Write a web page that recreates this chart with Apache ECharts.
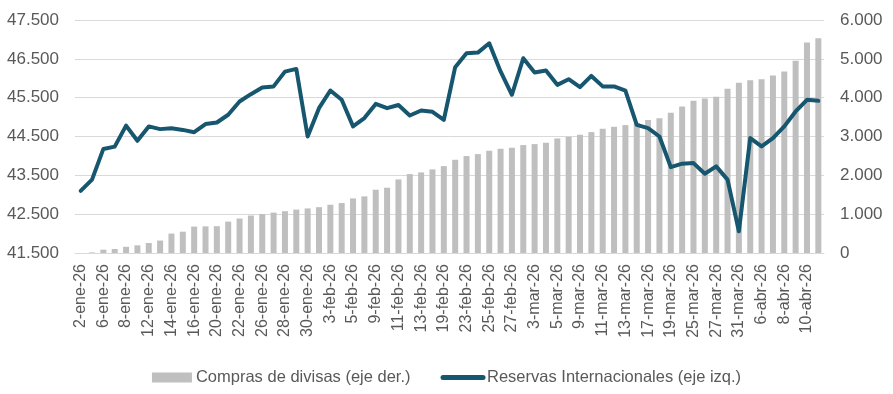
<!DOCTYPE html>
<html>
<head>
<meta charset="utf-8">
<script src="https://cdn.jsdelivr.net/npm/echarts@6/dist/echarts.min.js"></script>
<style>
html,body{margin:0;padding:0;background:#fff;}
#chart{width:893px;height:394px;}
</style>
</head>
<body>
<div id="chart"></div>
<script>
const categories = [
  "2-ene-26","5-ene-26","6-ene-26","7-ene-26","8-ene-26","9-ene-26","12-ene-26","13-ene-26","14-ene-26","15-ene-26","16-ene-26",
  "19-ene-26","20-ene-26","21-ene-26","22-ene-26","23-ene-26","26-ene-26","27-ene-26","28-ene-26","29-ene-26","30-ene-26",
  "2-feb-26","3-feb-26","4-feb-26","5-feb-26","6-feb-26","9-feb-26","10-feb-26","11-feb-26","12-feb-26","13-feb-26",
  "18-feb-26","19-feb-26","20-feb-26","23-feb-26","24-feb-26","25-feb-26","26-feb-26","27-feb-26",
  "2-mar-26","3-mar-26","4-mar-26","5-mar-26","6-mar-26","9-mar-26","10-mar-26","11-mar-26","12-mar-26","13-mar-26",
  "16-mar-26","17-mar-26","18-mar-26","19-mar-26","20-mar-26","25-mar-26","26-mar-26","27-mar-26","30-mar-26","31-mar-26",
  "1-abr-26","6-abr-26","7-abr-26","8-abr-26","9-abr-26","10-abr-26","13-abr-26"
];
const comprasDivisas = [
  0,15,86,103,160,197,257,320,500,549,680,
  686,690,808,888,965,1003,1040,1076,1118,1148,
  1180,1243,1286,1406,1458,1630,1681,1895,2033,2075,
  2153,2238,2401,2496,2547,2633,2684,2710,
  2779,2804,2839,2950,2993,3045,3113,3199,3250,3293,
  3345,3422,3473,3611,3774,3919,3979,4022,4228,4383,
  4451,4477,4571,4674,4949,5420,5532
];
const reservas = [
  43100,43390,44180,44240,44780,44390,44760,44690,44710,44670,44610,
  44820,44860,45060,45400,45590,45760,45790,46170,46240,44500,
  45230,45685,45445,44760,44975,45340,45230,45310,45040,45170,
  45135,44930,46285,46645,46660,46900,46175,45575,
  46515,46150,46200,45830,45975,45770,46060,45790,45790,45680,
  44800,44715,44500,43710,43800,43815,43540,43730,43390,42060,
  44460,44245,44460,44760,45145,45445,45420
];
const seriesNames = ["Compras de divisas (eje der.)", "Reservas Internacionales (eje izq.)"];
const leftAxis = {min: 41500, max: 47500, step: 1000};
const rightAxis = {min: 0, max: 6000, step: 1000};

function fmt(v){
  return String(Math.round(v)).replace(/\B(?=(\d{3})+(?!\d))/g, ".");
}

const chart = echarts.init(document.getElementById('chart'), null, {renderer:'canvas'});
const txt = '#595959';
const FONT = 'Liberation Sans';
const lineColor = '#17566f';
chart.setOption({
  animation: false,
  textStyle: {fontFamily: FONT},
  grid: {left: 75, right: 69, top: 20, bottom: 141, containLabel: false},
  legend: {
    top: 364,
    left: 'center',
    itemGap: 30,
    itemWidth: 40,
    itemHeight: 10,
    textStyle: {color: txt, fontSize: 16.5, fontFamily: FONT, padding: [0, 0, 0, -1]},
    data: [
      {name: seriesNames[0], icon: 'rect'},
      {name: seriesNames[1], itemStyle: {opacity: 0}, lineStyle: {width: 5, color: lineColor, cap: 'round'}}
    ]
  },
  xAxis: {
    type: 'category',
    data: categories,
    boundaryGap: true,
    axisLine: {lineStyle: {color: '#d9d9d9', width: 1}},
    axisTick: {show: false},
    axisLabel: {
      interval: 1,
      rotate: 90,
      color: txt,
      fontSize: 16,
      fontFamily: FONT,
      margin: 11
    }
  },
  yAxis: [
    {
      type: 'value',
      position: 'left',
      min: leftAxis.min, max: leftAxis.max, interval: leftAxis.step,
      axisLine: {show: false},
      axisTick: {show: false},
      splitLine: {lineStyle: {color: '#d9d9d9', width: 1}},
      axisLabel: {color: txt, fontSize: 17, fontFamily: FONT, margin: 16, formatter: fmt}
    },
    {
      type: 'value',
      position: 'right',
      min: rightAxis.min, max: rightAxis.max, interval: rightAxis.step,
      axisLine: {show: false},
      axisTick: {show: false},
      splitLine: {show: false},
      axisLabel: {color: txt, fontSize: 17, fontFamily: FONT, margin: 16, formatter: fmt}
    }
  ],
  series: [
    {
      name: seriesNames[0],
      type: 'bar',
      yAxisIndex: 1,
      data: comprasDivisas,
      barWidth: 6,
      itemStyle: {color: '#bfbfbf'},
      z: 1
    },
    {
      name: seriesNames[1],
      type: 'line',
      yAxisIndex: 0,
      data: reservas,
      symbol: 'none',
      smooth: false,
      lineStyle: {color: lineColor, width: 4, join: 'round', cap: 'round'},
      itemStyle: {color: lineColor},
      z: 3
    }
  ]
});
</script>
</body>
</html>
